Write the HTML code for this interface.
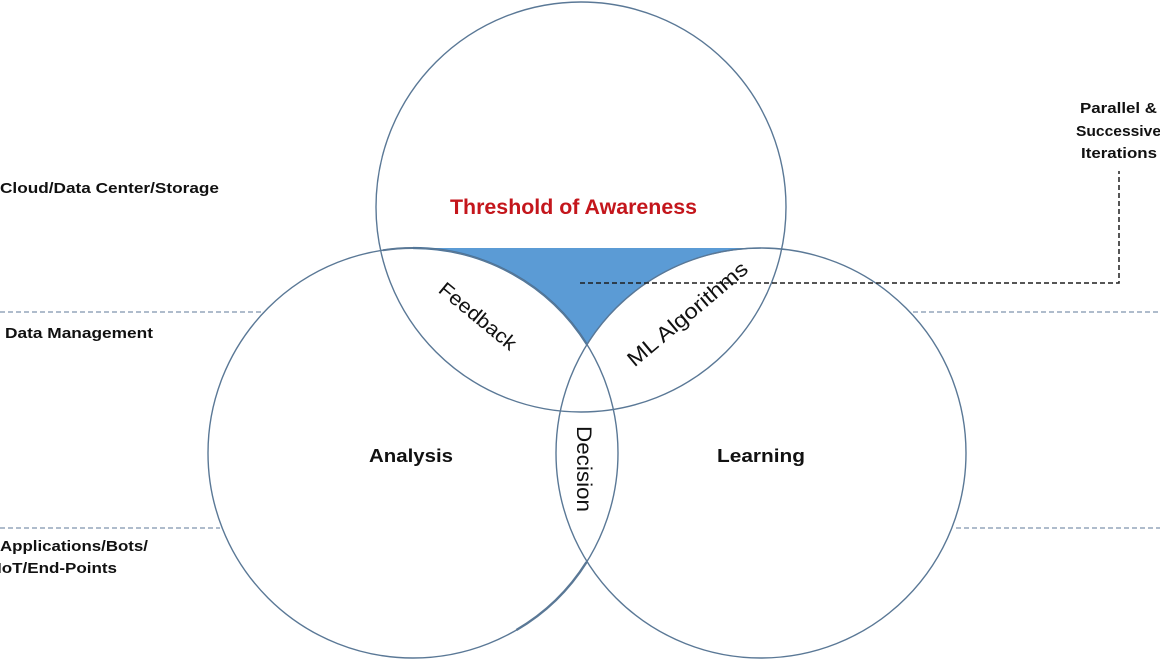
<!DOCTYPE html>
<html>
<head>
<meta charset="utf-8">
<style>
  html, body { margin: 0; padding: 0; background: #ffffff; }
  body { width: 1160px; height: 662px; overflow: hidden; }
  svg { display: block; }
  text { font-family: "Liberation Sans", "DejaVu Sans", sans-serif; }
</style>
</head>
<body>
<svg width="1160" height="662" viewBox="0 0 1160 662" xmlns="http://www.w3.org/2000/svg">
  <rect width="1160" height="662" fill="#ffffff"/>

  <!-- gray dashed separators -->
  <g stroke="#7f93ad" stroke-width="1.2" stroke-dasharray="5 3" fill="none">
    <line x1="0" y1="312" x2="261" y2="312"/>
    <line x1="913" y1="312" x2="1160" y2="312"/>
    <line x1="0" y1="528" x2="220" y2="528"/>
    <line x1="956" y1="528" x2="1160" y2="528"/>
  </g>

  <!-- blue highlighted region -->
  <path d="M 413 248 L 761 248 A 205 205 0 0 0 587 344.6 A 205 205 0 0 0 413 248 Z"
        fill="#5b9bd5" stroke="none"/>
  <path d="M 761 248 A 205 205 0 0 0 587 344.6" fill="none" stroke="#4a7fb5" stroke-width="1.2"/>
  <path d="M 587 344.6 A 205 205 0 0 0 413 248" fill="none" stroke="#41719c" stroke-width="2.2"/>

  <!-- circles -->
  <g fill="none" stroke="#5a7896" stroke-width="1.4">
    <circle cx="581" cy="207" r="205"/>
    <circle cx="413" cy="453" r="205"/>
    <circle cx="761" cy="453" r="205"/>
  </g>
  <!-- doubled line segments -->
  <path d="M 586.6 562 A 205 205 0 0 1 516.4 630" fill="none" stroke="#5a7896" stroke-width="2.4"/>
  <path d="M 383 250.2 A 205 205 0 0 1 413 248" fill="none" stroke="#5a7896" stroke-width="2"/>

  <!-- black dashed connector -->
  <path d="M 580 283 H 1119 V 171" fill="none" stroke="#1e1e1e" stroke-width="1.5" stroke-dasharray="5 3"/>

  <!-- left labels -->
  <g font-weight="bold" font-size="15" fill="#111">
    <text x="0" y="193" textLength="219" lengthAdjust="spacingAndGlyphs">Cloud/Data Center/Storage</text>
    <text x="5" y="338" textLength="148" lengthAdjust="spacingAndGlyphs">Data Management</text>
    <text x="0" y="551" textLength="148" lengthAdjust="spacingAndGlyphs">Applications/Bots/</text>
    <text x="-3" y="573" textLength="120" lengthAdjust="spacingAndGlyphs">IoT/End-Points</text>
  </g>

  <!-- right labels -->
  <g font-weight="bold" font-size="15" fill="#111" text-anchor="middle">
    <text x="1118.5" y="113" textLength="77" lengthAdjust="spacingAndGlyphs">Parallel &amp;</text>
    <text x="1118.5" y="136" textLength="85" lengthAdjust="spacingAndGlyphs">Successive</text>
    <text x="1119" y="158" textLength="76" lengthAdjust="spacingAndGlyphs">Iterations</text>
  </g>

  <!-- Threshold -->
  <text x="450" y="214" font-size="21" font-weight="bold" fill="#c4161c" textLength="247" lengthAdjust="spacingAndGlyphs">Threshold of Awareness</text>

  <!-- Analysis / Learning -->
  <text x="369" y="462" font-size="18.5" font-weight="bold" fill="#111" textLength="84" lengthAdjust="spacingAndGlyphs">Analysis</text>
  <text x="717" y="462" font-size="18.5" font-weight="bold" fill="#111" textLength="88" lengthAdjust="spacingAndGlyphs">Learning</text>

  <!-- rotated labels -->
  <g transform="translate(478,316) rotate(39.5)">
    <text x="0" y="7" font-size="20" fill="#111" text-anchor="middle" textLength="94" lengthAdjust="spacingAndGlyphs">Feedback</text>
  </g>
  <g transform="translate(687.5,314) rotate(-40)">
    <text x="0" y="7" font-size="21" fill="#111" text-anchor="middle" textLength="150" lengthAdjust="spacingAndGlyphs">ML Algorithms</text>
  </g>
  <g transform="translate(584,469) rotate(90)">
    <text x="0" y="7" font-size="21" fill="#111" text-anchor="middle" textLength="86" lengthAdjust="spacingAndGlyphs">Decision</text>
  </g>
</svg>
</body>
</html>
